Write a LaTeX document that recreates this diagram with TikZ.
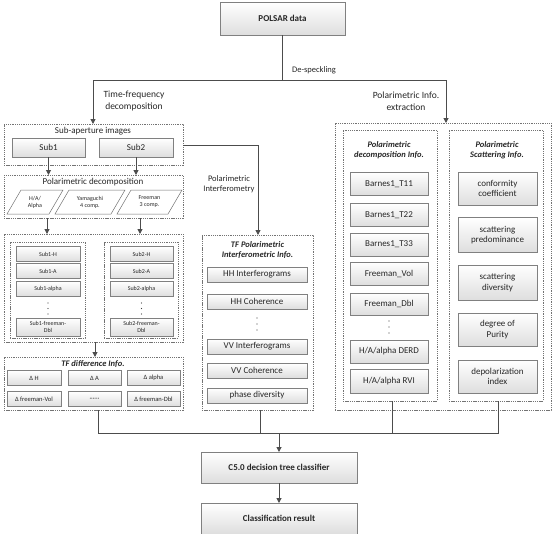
\documentclass[tikz,border=0pt]{standalone}
\usepackage{fontspec}
\setmainfont{Carlito}
\usetikzlibrary{arrows.meta,shadows}
\begin{document}
\begin{tikzpicture}[x=1pt,y=-1pt,
 box/.style={draw=black!50, line width=0.5pt, top color=white, bottom color=black!13, inner sep=0pt, outer sep=0pt, align=center, text=black!85,
   drop shadow={shadow xshift=0.8pt,shadow yshift=-0.8pt,opacity=0.22}},
 dbox/.style={draw=black!55, line width=0.5pt, dash pattern=on 1.3pt off 0.9pt, inner sep=0pt, outer sep=0pt},
 sz/.style 2 args={minimum width=#1pt, minimum height=#2pt},
 lbl/.style={inner sep=0pt, align=center, text=black!85},
 ttl/.style={lbl, font=\fontsize{8.5}{10.5}\selectfont\bfseries\itshape},
 conn/.style={draw=black!70, line width=1pt},
 arr/.style={conn, -{Triangle[length=5pt,width=5pt]}},
 pg/.style={draw=black!55, line width=0.5pt, fill=white},
 big/.style={font=\fontsize{9}{10.5}\selectfont},
 mid/.style={font=\fontsize{8.5}{10}\selectfont},
 tiny/.style={font=\fontsize{6}{7}\selectfont},
 dtxt/.style={font=\fontsize{6.5}{7.5}\selectfont},
]
\useasboundingbox (0,0) rectangle (557,533);

% top
\node[box, sz={125}{33}, font=\fontsize{9}{10}\selectfont\bfseries] (polsar) at (282.5,18.5) {POLSAR data};
\node[lbl, mid] (desp) at (314,70) {De-speckling};
\node[lbl, font=\fontsize{9.5}{12}\selectfont] (tfdec) at (134,101) {Time-frequency\\decomposition};
\node[lbl, font=\fontsize{9.5}{12}\selectfont] (pie) at (406,101) {Polarimetric Info.\\extraction};

% left: sub-aperture
\node[dbox, sz={179}{41}] (sa) at (93.5,144.5) {};
\node[lbl, big] (satitle) at (93,131.5) {Sub-aperture images};
\node[box, sz={73}{19}, big] (sub1) at (48.5,147.5) {Sub1};
\node[box, sz={74}{19}, big] (sub2) at (136,147.5) {Sub2};

% polarimetric decomposition
\node[dbox, sz={179}{43}] (pd) at (93.5,196.5) {};
\node[lbl, big] (pdtitle) at (93,182) {Polarimetric decomposition};
\draw[pg] (7,214) -- (21,190) -- (63,190) -- (49,214) -- cycle;
\draw[pg] (55,214) -- (69,190) -- (125,190) -- (111,214) -- cycle;
\draw[pg] (117,214) -- (131,190) -- (182,190) -- (168,214) -- cycle;
\node[lbl, tiny] (p1) at (35,202) {H/A/\\Alpha};
\node[lbl, tiny] (p2) at (90,202) {Yamaguchi\\4 comp.};
\node[lbl, tiny] (p3) at (149.5,202) {Freeman\\3 comp.};

% sub images
\node[dbox, sz={179}{108}] (si) at (93.5,288) {};
\node[dbox, sz={75}{96}] (sil) at (47.5,290) {};
\node[dbox, sz={74}{96}] (sir) at (141,290) {};
\node[box, sz={64}{15}, tiny] (s1h) at (48,254) {Sub1-H};
\node[box, sz={64}{15}, tiny] (s1a) at (48,271) {Sub1-A};
\node[box, sz={64}{15}, tiny] (s1al) at (48,289) {Sub1-alpha};
\node[box, sz={64}{18}, tiny] (s1f) at (48,327) {Sub1-freeman-\\Dbl};
\node[box, sz={63}{15}, tiny] (s2h) at (141.5,254) {Sub2-H};
\node[box, sz={63}{15}, tiny] (s2a) at (141.5,271) {Sub2-A};
\node[box, sz={63}{15}, tiny] (s2al) at (141.5,289) {Sub2-alpha};
\node[box, sz={63}{18}, tiny] (s2f) at (141.5,327) {Sub2-freeman-\\Dbl};
\foreach \d in {0,5.5,11}{\fill[black!75] (48,303+\d) circle (0.7pt); \fill[black!75] (141.5,303+\d) circle (0.7pt);}

% TF difference
\node[dbox, sz={179}{53}] (tfd) at (93.5,383.5) {};
\node[ttl] (tfdtitle) at (93,364) {TF difference Info.};
\node[box, sz={54}{15}, dtxt] (dh) at (34,378) {Δ H};
\node[box, sz={53}{15}, dtxt] (da) at (94.5,378) {Δ A};
\node[box, sz={53}{15}, dtxt] (dal) at (153.5,378) {Δ alpha};
\node[box, sz={54}{15}, dtxt] (dfv) at (34,399) {Δ freeman-Vol};
\node[box, sz={53}{15}, dtxt] (ddots) at (94.5,399) {······};
\node[box, sz={53}{15}, dtxt] (dfd) at (153.5,399) {Δ freeman-Dbl};

% middle
\node[lbl, mid] (pint) at (229,184) {Polarimetric\\Interferometry};
\node[dbox, sz={111}{175}] (tfp) at (257.5,322.5) {};
\node[ttl] (tfptitle) at (257.5,250) {TF Polarimetric\\Interferometric Info.};
\node[box, sz={100}{15}, big] (hhi) at (257,274.5) {HH Interferograms};
\node[box, sz={100}{15}, big] (hhc) at (257,301.5) {HH Coherence};
\node[box, sz={100}{15}, big] (vvi) at (257,346.5) {VV Interferograms};
\node[box, sz={100}{15}, big] (vvc) at (257,370.5) {VV Coherence};
\node[box, sz={100}{15}, big] (phd) at (257,395.5) {phase diversity};
\foreach \d in {0,6,12}{\fill[black!75] (257,318+\d) circle (0.7pt);}

% right
\node[dbox, sz={216}{287}] (ro) at (443,266.5) {};
\node[dbox, sz={94}{271}] (il) at (390,265.5) {};
\node[dbox, sz={94}{271}] (ir) at (496,265.5) {};
\node[ttl] (iltitle) at (389,150) {Polarimetric\\decomposition Info.};
\node[ttl] (irtitle) at (497,150) {Polarimetric\\Scattering Info.};
\node[box, sz={78}{23}, big] (t11) at (389,184) {Barnes1\_T11};
\node[box, sz={78}{23}, big] (t22) at (389,215) {Barnes1\_T22};
\node[box, sz={78}{23}, big] (t33) at (389,244.5) {Barnes1\_T33};
\node[box, sz={78}{23}, big] (fvol) at (389,273.5) {Freeman\_Vol};
\node[box, sz={78}{22}, big] (fdbl) at (389,304) {Freeman\_Dbl};
\foreach \d in {0,6,12}{\fill[black!75] (389,321+\d) circle (0.7pt);}
\node[box, sz={78}{23}, big] (derd) at (389,351.5) {H/A/alpha DERD};
\node[box, sz={78}{24}, big] (rvi) at (389,381) {H/A/alpha RVI};
\node[box, sz={79}{33}, big] (conf) at (497.5,188.5) {conformity\\coefficient};
\node[box, sz={79}{35}, big] (spre) at (497.5,235) {scattering\\predominance};
\node[box, sz={79}{35}, big] (sdiv) at (497.5,282.5) {scattering\\diversity};
\node[box, sz={79}{33}, big] (pur) at (497.5,329.5) {degree of\\Purity};
\node[box, sz={79}{33}, big] (depol) at (497.5,376.5) {depolarization\\index};

% bottom
\node[box, sz={156}{31}, font=\fontsize{9}{10}\selectfont\bfseries] (c5) at (279,467.5) {C5.0 decision tree classifier};
\node[box, sz={156}{31}, font=\fontsize{9}{10}\selectfont\bfseries] (cr) at (279,518.5) {Classification result};

% connectors
\coordinate (jt) at (282.5,80);
\coordinate (jl) at (93,80);
\coordinate (jr) at (446,80);
\draw[conn] (polsar.south) -- (jt);
\draw[arr] (jt) -- (jl) -- (sa.north -| jl);
\draw[arr] (jt) -- (jr) -- (ro.north -| jr);
\draw[arr] (sub1.south) -- (sub1.south |- pd.north);
\draw[arr] (sub2.south) -- (sub2.south |- pd.north);
\coordinate (xa) at (47,0);
\coordinate (xb) at (140,0);
\draw[arr] (pd.south -| xa) -- (si.north -| xa);
\draw[arr] (pd.south -| xb) -- (si.north -| xb);
\coordinate (xc) at (95,0);
\draw[arr] (si.south -| xc) -- (tfd.north -| xc);
\coordinate (ci) at (258,145);
\draw[arr] (sa.east |- ci) -- (ci) -- (tfp.north -| ci);
\coordinate (m1) at (98,433);
\coordinate (m2) at (260,433);
\coordinate (m3) at (392,433);
\coordinate (m4) at (498,433);
\coordinate (mc) at (279,433);
\draw[conn] (tfd.south -| m1) -- (m1) -- (m4) -- (ir.south -| m4);
\draw[conn] (tfp.south -| m2) -- (m2);
\draw[conn] (il.south -| m3) -- (m3);
\draw[arr] (mc) -- (c5.north);
\draw[arr] (c5.south) -- (cr.north);
\end{tikzpicture}
\end{document}
